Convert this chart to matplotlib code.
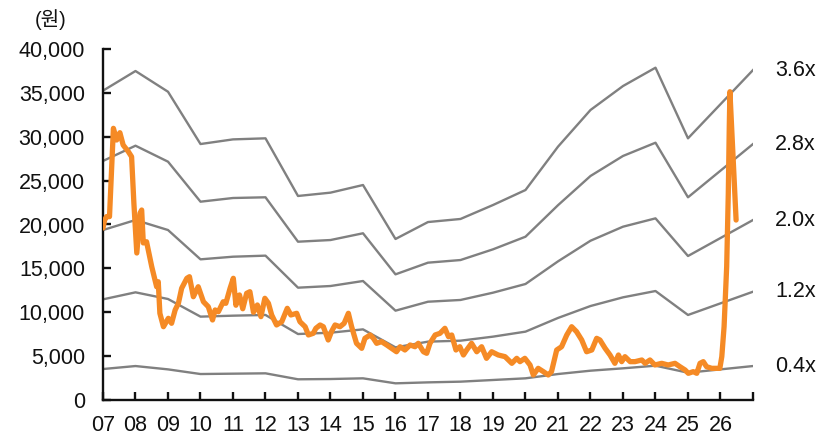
"""PBR band chart: share price vs. book-value multiple bands."""

import matplotlib

matplotlib.use("Agg")
import matplotlib.pyplot as plt

# year-end book-value band lines (x in years, 7 = 2007)
band_years = [7, 8, 9, 10, 11, 12, 13, 14, 15, 16, 17, 18, 19, 20, 21, 22, 23, 24, 25, 27]
band_36 = [35250, 37490, 35130, 29170, 29700, 29820, 23250, 23630, 24500, 18350,
           20280, 20630, 22220, 23930, 28870, 33050, 35780, 37870, 29820, 37600]
band_28 = [27240, 28980, 27160, 22600, 23020, 23100, 18040, 18230, 19000, 14320,
           15650, 15950, 17170, 18610, 22200, 25530, 27810, 29320, 23100, 29170]
band_20 = [19370, 20510, 19370, 16030, 16330, 16450, 12800, 12990, 13560, 10180,
           11200, 11400, 12230, 13220, 15800, 18150, 19750, 20700, 16410, 20510]
band_12 = [11470, 12270, 11510, 9500, 9610, 9690, 7520, 7670, 8050, 6000,
           6650, 6760, 7220, 7790, 9350, 10710, 11700, 12420, 9690, 12340]
band_04 = [3530, 3870, 3490, 2960, 3000, 3040, 2360, 2390, 2470, 1900,
           2010, 2090, 2280, 2470, 2960, 3340, 3610, 3910, 3110, 3870]
band_labels = ["3.6x", "2.8x", "2.0x", "1.2x", "0.4x"]

# share price
price_x = [
    7.00, 7.05, 7.11, 7.20, 7.32, 7.42, 7.52, 7.62, 7.78, 7.88, 7.95, 8.04, 8.14,
    8.19, 8.24, 8.34, 8.50, 8.65, 8.70, 8.75, 8.86, 9.01, 9.11, 9.22, 9.32, 9.42,
    9.58, 9.66, 9.78, 9.93, 10.09, 10.24, 10.37, 10.45, 10.55, 10.70, 10.78, 10.91,
    11.01, 11.09, 11.20, 11.30, 11.42, 11.52, 11.63, 11.75, 11.86, 11.98, 12.09,
    12.19, 12.34, 12.50, 12.67, 12.78, 12.96, 13.06, 13.22, 13.32, 13.47, 13.55,
    13.68, 13.78, 13.93, 14.03, 14.14, 14.29, 14.42, 14.55, 14.65, 14.80, 14.96,
    15.06, 15.22, 15.32, 15.42, 15.57, 15.73, 15.88, 16.03, 16.14, 16.29, 16.45,
    16.60, 16.70, 16.86, 16.96, 17.06, 17.22, 17.37, 17.52, 17.63, 17.73, 17.86,
    17.98, 18.09, 18.19, 18.34, 18.50, 18.65, 18.80, 18.96, 19.16, 19.37, 19.58,
    19.73, 19.83, 19.98, 20.14, 20.24, 20.39, 20.55, 20.70, 20.80, 20.96, 21.11,
    21.27, 21.42, 21.57, 21.73, 21.88, 22.04, 22.19, 22.29, 22.45, 22.60, 22.75,
    22.86, 22.96, 23.06, 23.22, 23.37, 23.58, 23.68, 23.83, 23.98, 24.19, 24.39,
    24.60, 24.75, 24.91, 25.01, 25.16, 25.27, 25.37, 25.47, 25.57, 25.73, 25.88,
    25.98, 26.04, 26.11, 26.19, 26.24, 26.27, 26.29, 26.39, 26.48,
]
price = [
    19600, 20500, 20900, 20900, 30960, 29630, 30460, 29060, 28300, 27720, 22450,
    16750, 21300, 21650, 17900, 18040, 15190, 12910, 13480, 9880, 8350, 9310, 8740,
    10260, 11020, 12730, 13870, 14050, 11770, 12910, 11200, 10630, 9120, 10260,
    10060, 11200, 11020, 12730, 13870, 10800, 11970, 10400, 12160, 12340, 10000,
    10830, 9500, 11590, 11020, 9690, 8550, 8920, 10450, 9690, 9880, 8920, 8350,
    7410, 7600, 8170, 8550, 8350, 6840, 7790, 8550, 8350, 8740, 9880, 8350, 6460,
    5890, 7030, 7410, 7030, 6460, 6650, 6270, 5890, 5500, 6070, 5700, 6270, 6070,
    6460, 5500, 5320, 6460, 7410, 7600, 8170, 7220, 7410, 5700, 6070, 5130, 5700,
    6460, 5500, 6070, 4750, 5500, 5130, 4940, 4180, 4750, 4370, 4750, 3990, 2850,
    3610, 3230, 2850, 3230, 5700, 6070, 7410, 8350, 7790, 6840, 5500, 5700, 7030,
    6840, 5890, 5130, 4180, 5130, 4370, 4940, 4370, 4370, 4560, 4180, 4560, 3990,
    4180, 3990, 4180, 3800, 3420, 3040, 3230, 3040, 4180, 4370, 3800, 3610, 3610,
    3610, 4940, 8350, 15190, 23550, 31150, 35130, 27350, 20510,
]

year_ticks = list(range(7, 28))
year_labels = [f"{y:02d}" for y in range(7, 27)] + [""]

plt.rcParams["font.family"] = ["Liberation Sans", "Noto Sans CJK KR", "DejaVu Sans"]

fig = plt.figure(figsize=(8.37, 4.36), dpi=100)
ax = fig.add_axes([103 / 837, 36 / 436, 650 / 837, 351 / 436])

bands = [band_36, band_28, band_20, band_12, band_04]
for vals, lab in zip(bands, band_labels):
    ax.plot(band_years, vals, color="#808080", lw=1.7, zorder=2)
    ax.annotate(lab, xy=(band_years[-1], vals[-1]), xytext=(16, 0),
                textcoords="offset points", va="center", ha="left",
                fontsize=15.5, color="#111111", annotation_clip=False)

ax.plot(price_x, price, color="#F58A25", lw=3.8, solid_joinstyle="round",
        solid_capstyle="round", zorder=3)

ax.set_xlim(7, 27)
ax.set_ylim(0, 40000)
ax.set_xticks(year_ticks)
ax.set_xticklabels(year_labels)
ax.set_yticks(range(0, 40001, 5000))
ax.set_yticklabels([f"{v:,}" for v in range(0, 40001, 5000)])

for s in ("top", "right"):
    ax.spines[s].set_visible(False)
for s in ("left", "bottom"):
    ax.spines[s].set_linewidth(1.7)
    ax.spines[s].set_color("#111111")

ax.tick_params(axis="both", direction="in", length=6, width=1.7, color="#111111",
               labelsize=15.5, labelcolor="#111111")
ax.tick_params(axis="y", pad=13)
ax.tick_params(axis="x", pad=11)

fig.text(35 / 837, 1 - 20 / 436, "(원)", fontsize=14.5, va="center", ha="left",
         color="#111111")

fig.savefig("out.png", dpi=100)
plt.close(fig)
